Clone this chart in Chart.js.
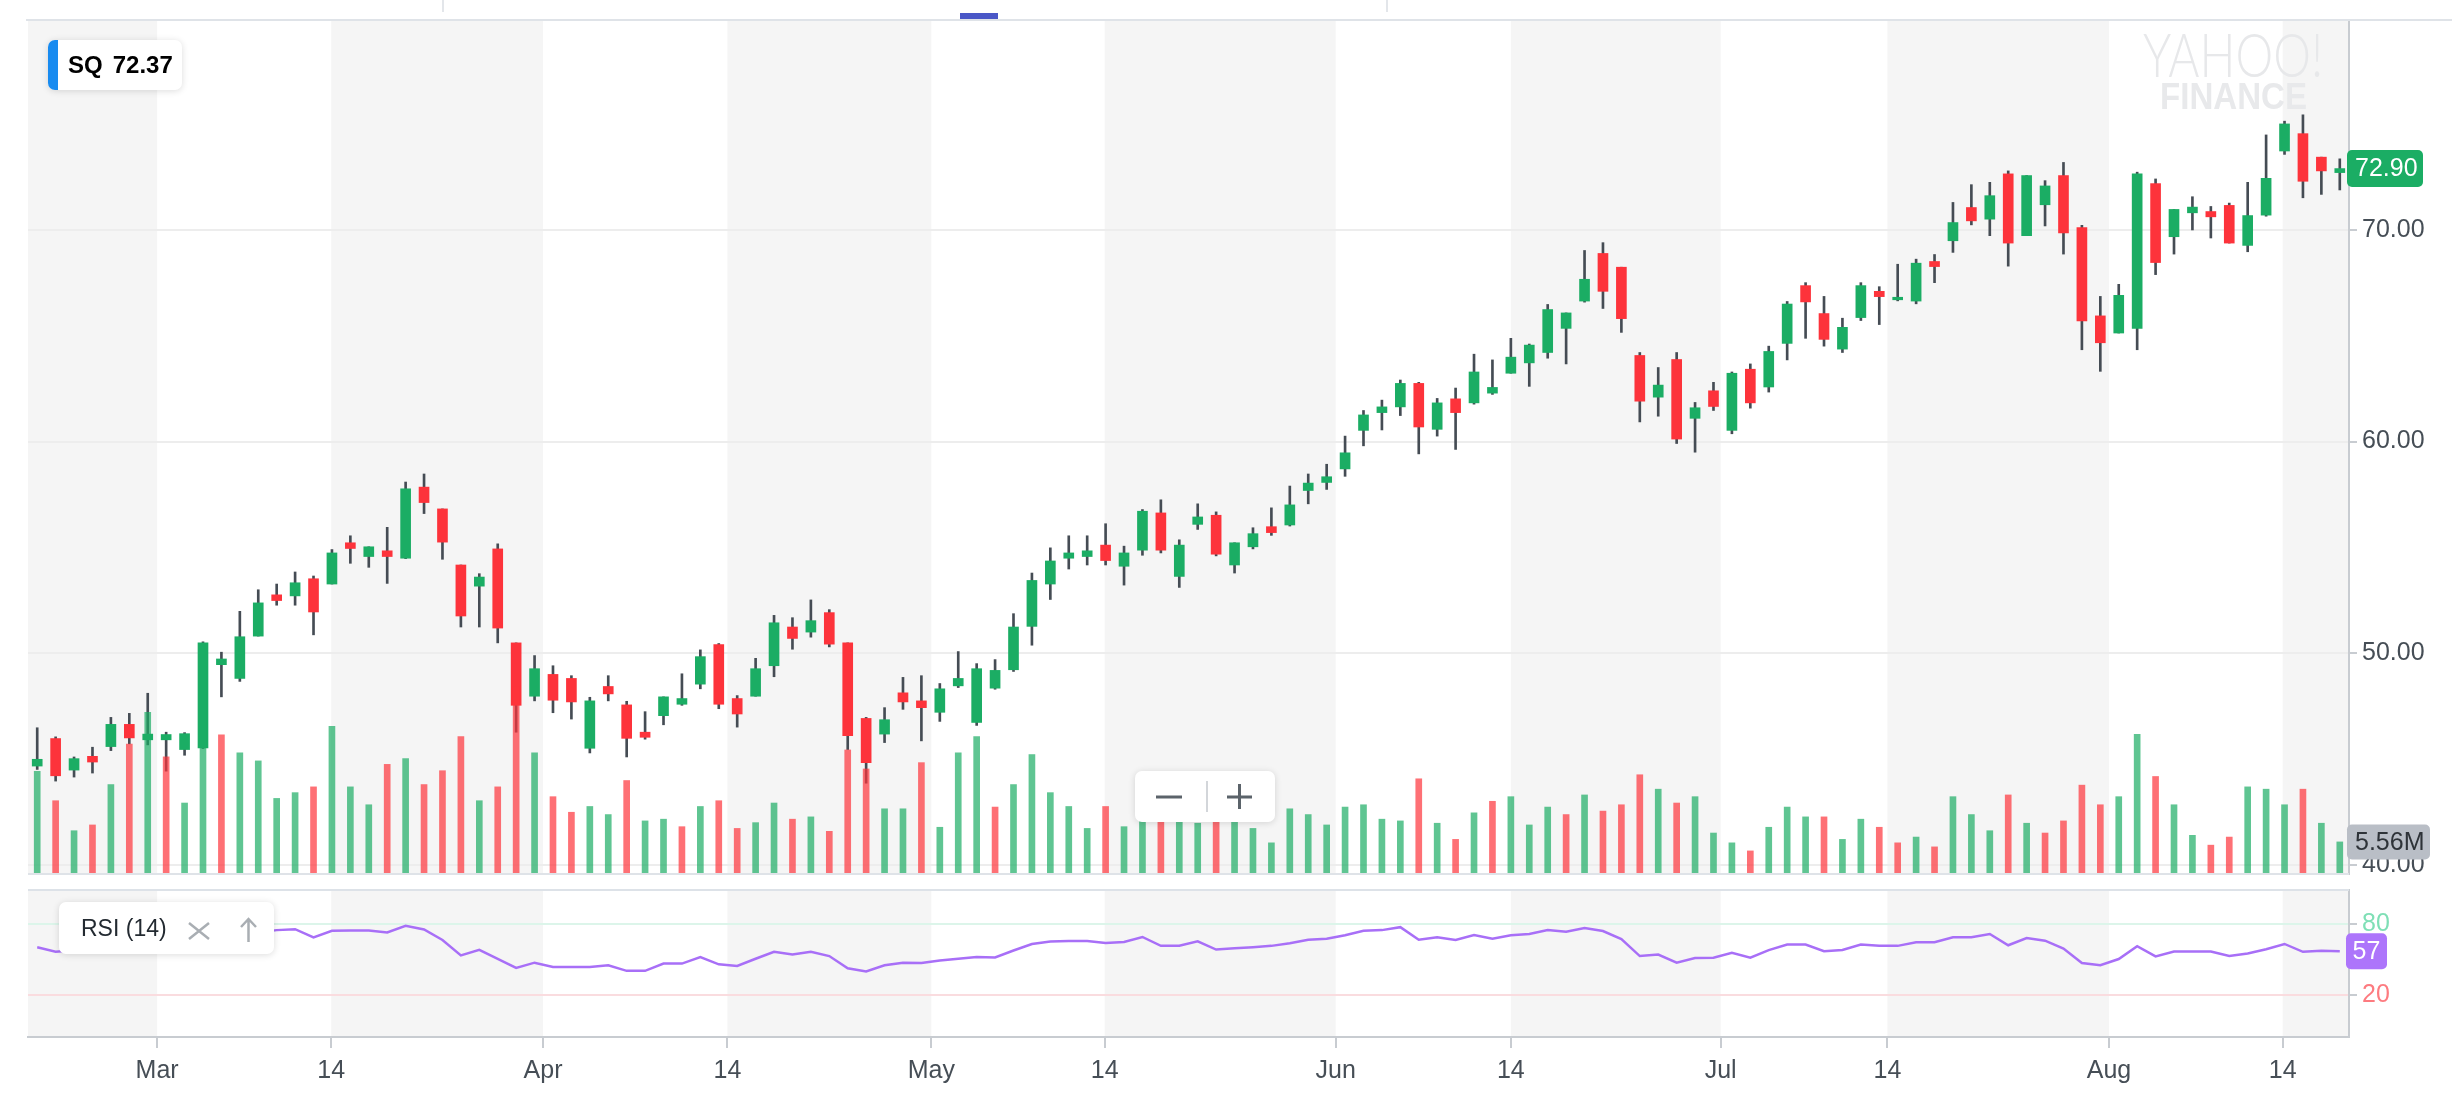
<!DOCTYPE html>
<html>
<head>
<meta charset="utf-8">
<title>SQ</title>
<script src="https://cdn.jsdelivr.net/npm/chart.js@4.4.1/dist/chart.umd.min.js"></script>
<style>
  html, body { margin: 0; padding: 0; background: #fff; }
  body { position: relative; width: 2452px; height: 1102px; overflow: hidden; font-family: "Liberation Sans", Arial, sans-serif; }
  canvas { position: absolute; left: 0; }
  #price { top: 0; }
  #rsi { top: 870px; }
  .tab-mark { position: absolute; left: 960px; top: 13px; width: 38px; height: 6px; background: #4a57c7; }
  .sep { position: absolute; top: 0; width: 2px; height: 12px; background: #e3e6ea; }
  .card { position: absolute; background: #fff; border-radius: 7px; box-shadow: 0 1px 7px rgba(0,0,0,.14); }
  #sym { left: 48px; top: 40px; width: 134px; height: 50px; overflow: hidden; }
  #sym .bar { position: absolute; left: 0; top: 0; width: 10px; height: 50px; background: #188bf0; }
  #sym .txt { position: absolute; left: 20px; top: 0; line-height: 50px; font-size: 24px; font-weight: bold; color: #000; white-space: nowrap; }
  #rsiTag { left: 59px; top: 902px; width: 215px; height: 52px; }
  #rsiTag .txt { position: absolute; left: 22px; top: 0; line-height: 52px; font-size: 23px; color: #232a31; }
  #rsiTag svg, #zoom svg { position: absolute; left: 0; top: 0; }
  #zoom { left: 1135px; top: 771px; width: 140px; height: 51px; }
</style>
</head>
<body>
<canvas id="price" width="2452" height="900"></canvas>
<canvas id="rsi" width="2452" height="232"></canvas>

<div class="sep" style="left:442px"></div>
<div class="sep" style="left:1386px"></div>
<div class="tab-mark"></div>

<div class="card" id="sym"><div class="bar"></div><div class="txt">SQ<span style="margin-left:10px">72.37</span></div></div>

<div class="card" id="rsiTag">
  <div class="txt">RSI (14)</div>
  <svg width="215" height="52">
    <path d="M130 21 L150 37 M150 21 L130 37" stroke="#a9aeb3" stroke-width="2.5" fill="none"/>
    <path d="M189.5 40 L189.5 17 M182 25 L189.5 17 L197 25" stroke="#a9aeb3" stroke-width="2.5" fill="none"/>
  </svg>
</div>

<div class="card" id="zoom">
  <svg width="140" height="51">
    <path d="M21 26 L47 26" stroke="#5b636a" stroke-width="3"/>
    <path d="M72 10 L72 41" stroke="#d3d6da" stroke-width="2"/>
    <path d="M92 26 L117 26 M104.5 13 L104.5 38" stroke="#5b636a" stroke-width="3"/>
  </svg>
</div>

<script>
// start: data (SQ daily, Feb 20 - Aug 17 2018, index = trading day)
const OPEN = [
  44.67, 45.97, 44.48, 45.13, 45.59, 46.64, 45.91, 45.91, 45.45, 45.53,
  49.46, 48.81, 50.81, 52.76, 52.71, 53.52, 53.27, 55.22, 54.57, 54.84,
  54.49, 57.85, 56.82, 54.17, 53.17, 54.93, 50.49, 47.97, 49.00, 48.81,
  45.51, 48.43, 47.56, 46.27, 47.05, 47.59, 48.54, 50.41, 47.86, 47.97,
  49.41, 51.24, 51.00, 51.92, 50.49, 46.92, 46.18, 48.13, 47.75, 47.21,
  48.46, 46.73, 48.35, 49.22, 51.27, 53.27, 54.49, 54.57, 55.11, 54.11,
  54.87, 56.63, 53.63, 56.09, 56.52, 54.17, 55.03, 55.98, 56.06, 57.69,
  58.07, 58.71, 60.53, 61.37, 61.64, 62.75, 60.58, 62.02, 61.83, 62.29,
  63.23, 63.72, 64.21, 65.35, 66.64, 68.89, 68.24, 64.07, 62.10, 63.88,
  61.10, 62.40, 60.53, 63.42, 62.58, 64.64, 67.37, 66.05, 64.37, 65.86,
  67.10, 66.70, 66.64, 68.51, 69.49, 71.06, 70.51, 72.65, 69.73, 71.19,
  72.57, 70.11, 65.94, 65.13, 65.35, 72.19, 69.68, 70.81, 70.87, 71.16,
  69.27, 70.70, 73.73, 74.55, 73.44, 72.71
];
const HIGH = [
  46.48, 46.05, 45.10, 45.56, 46.97, 47.16, 48.11, 46.27, 46.25, 50.54,
  50.05, 51.98, 53.00, 53.27, 53.84, 53.65, 54.90, 55.55, 55.03, 55.95,
  58.09, 58.47, 56.82, 54.17, 53.76, 55.17, 50.49, 49.89, 49.41, 48.94,
  47.92, 48.94, 47.73, 47.24, 47.94, 49.03, 50.16, 50.46, 48.00, 49.76,
  51.79, 51.68, 52.52, 52.06, 50.49, 46.97, 47.43, 48.86, 48.94, 48.57,
  50.08, 49.51, 49.70, 51.87, 53.79, 54.98, 55.55, 55.55, 56.12, 55.06,
  56.79, 57.25, 55.36, 57.06, 56.68, 55.22, 55.93, 56.87, 57.90, 58.47,
  58.93, 60.26, 61.47, 61.96, 62.91, 62.80, 62.04, 62.53, 64.13, 63.86,
  64.88, 64.61, 66.48, 66.08, 69.03, 69.40, 68.24, 64.21, 63.50, 64.21,
  61.85, 62.80, 63.29, 63.67, 64.51, 66.62, 67.51, 66.86, 65.83, 67.51,
  67.32, 68.38, 68.62, 68.84, 71.30, 72.14, 72.25, 72.79, 72.57, 72.33,
  73.19, 70.22, 66.86, 67.43, 72.73, 72.41, 70.97, 71.57, 71.11, 71.27,
  72.25, 74.49, 75.14, 75.44, 73.44, 73.36
];
const LOW = [
  44.51, 43.96, 44.15, 44.34, 45.40, 45.72, 45.67, 44.43, 45.18, 45.50,
  47.94, 48.67, 50.81, 52.27, 52.27, 50.87, 53.27, 54.25, 54.06, 53.30,
  54.47, 56.60, 54.44, 51.24, 51.24, 50.49, 46.27, 47.75, 47.19, 46.89,
  45.29, 47.75, 45.10, 45.94, 46.62, 47.54, 48.32, 47.38, 46.51, 47.97,
  48.89, 50.19, 50.76, 50.30, 45.45, 43.86, 45.78, 47.35, 45.86, 46.78,
  48.38, 46.59, 48.30, 49.14, 50.38, 52.54, 53.98, 54.17, 54.17, 53.22,
  54.63, 54.74, 53.11, 55.85, 54.60, 53.79, 54.93, 55.57, 56.01, 57.06,
  57.74, 58.36, 59.80, 60.55, 61.23, 59.42, 60.26, 59.63, 61.77, 62.23,
  63.23, 62.61, 63.94, 63.67, 66.59, 66.29, 65.16, 60.93, 61.20, 59.91,
  59.50, 61.47, 60.37, 61.58, 62.34, 63.86, 64.88, 64.51, 64.21, 65.72,
  65.53, 66.65, 66.51, 67.51, 68.94, 70.24, 69.73, 68.29, 69.73, 70.19,
  68.86, 64.34, 63.32, 65.13, 64.34, 67.89, 68.86, 70.00, 69.62, 69.38,
  68.97, 70.65, 73.57, 71.52, 71.68, 71.89
];
const CLOSE = [
  44.99, 44.21, 45.02, 44.86, 46.64, 46.00, 46.18, 46.16, 46.20, 50.49,
  49.73, 50.78, 52.38, 52.49, 53.33, 51.95, 54.74, 54.95, 55.03, 54.57,
  57.77, 57.12, 55.25, 51.76, 53.60, 51.19, 47.54, 49.27, 47.78, 47.70,
  47.75, 48.08, 45.98, 46.03, 47.94, 47.86, 49.84, 47.59, 47.13, 49.27,
  51.44, 50.70, 51.54, 50.43, 46.10, 44.83, 46.86, 47.70, 47.43, 48.32,
  48.81, 49.27, 49.19, 51.24, 53.44, 54.36, 54.74, 54.84, 54.38, 54.74,
  56.71, 54.87, 55.11, 56.44, 54.68, 55.22, 55.65, 55.70, 57.01, 58.04,
  58.34, 59.47, 61.26, 61.64, 62.75, 60.69, 61.83, 61.37, 63.29, 62.56,
  63.99, 64.56, 66.24, 66.08, 67.67, 67.10, 65.81, 61.91, 62.67, 60.12,
  61.60, 61.66, 63.23, 61.83, 64.26, 66.50, 66.60, 64.83, 65.40, 67.37,
  66.85, 66.82, 68.43, 68.27, 70.35, 70.43, 71.62, 69.38, 72.57, 72.08,
  69.86, 65.70, 64.67, 66.91, 72.65, 68.46, 70.97, 71.08, 70.62, 69.38,
  70.68, 72.44, 75.01, 72.30, 72.79, 72.90
];
// volume in millions
const VOLUME = [
  17.8, 12.7, 7.5, 8.5, 15.5, 22.5, 28.0, 20.3, 12.3, 36.0,
  24.1, 21.0, 19.6, 13.1, 14.1, 15.1, 25.6, 15.1, 12.0, 19.0,
  20.0, 15.5, 17.9, 23.8, 12.7, 15.1, 32.4, 21.0, 13.4, 10.7,
  11.7, 10.3, 16.2, 9.2, 9.5, 8.2, 11.7, 12.7, 7.9, 8.9,
  12.3, 9.5, 9.9, 7.4, 21.5, 18.2, 11.3, 11.3, 19.3, 8.1,
  21.0, 23.8, 11.6, 15.5, 20.7, 14.1, 11.7, 7.9, 11.7, 8.2,
  14.0, 16.0, 12.0, 8.8, 11.0, 12.0, 7.9, 5.4, 11.3, 10.3,
  8.5, 11.6, 12.0, 9.5, 9.2, 16.5, 8.8, 6.0, 10.6, 12.6,
  13.4, 8.5, 11.6, 10.3, 13.7, 10.9, 12.0, 17.2, 14.7, 12.3,
  13.4, 7.1, 5.4, 4.0, 8.1, 11.6, 9.9, 9.9, 6.0, 9.5,
  8.1, 5.4, 6.4, 4.7, 13.4, 10.3, 7.5, 13.7, 8.8, 7.1,
  9.2, 15.4, 12.0, 13.4, 24.2, 16.9, 12.0, 6.7, 5.0, 6.4,
  15.1, 14.7, 12.0, 14.7, 8.8, 5.56
];
const RSI = [
  60.5, 56.7, 58.0, 57.0, 61.0, 59.0, 60.0, 60.0, 61.0, 70.0,
  68.0, 71.0, 73.0, 75.0, 75.8, 68.9, 74.4, 74.7, 74.7, 73.1,
  78.6, 75.6, 66.7, 53.6, 58.3, 50.8, 43.1, 47.5, 43.9, 43.9,
  43.9, 45.3, 40.6, 40.6, 46.7, 46.7, 52.2, 46.1, 44.7, 50.8,
  56.7, 54.4, 56.7, 53.1, 42.8, 40.0, 45.3, 47.5, 47.2, 49.4,
  50.8, 52.2, 51.9, 57.8, 63.3, 65.3, 65.8, 65.8, 64.2, 65.0,
  69.2, 61.7, 61.9, 65.6, 58.6, 59.7, 60.6, 61.7, 63.9, 66.9,
  67.8, 70.6, 74.4, 75.0, 77.5, 66.9, 68.9, 66.7, 70.8, 67.8,
  70.6, 71.7, 75.0, 73.6, 76.7, 74.2, 67.5, 53.1, 54.4, 47.5,
  51.4, 51.7, 55.8, 51.7, 58.1, 62.8, 62.8, 57.2, 58.3, 62.8,
  61.9, 61.7, 64.7, 64.7, 68.9, 68.9, 71.7, 62.2, 68.3, 66.1,
  59.4, 47.2, 45.3, 50.6, 61.4, 52.8, 56.9, 56.9, 56.9, 53.1,
  55.3, 58.9, 63.3, 56.7, 57.5, 57.2
];
const TICK_LABELS = ['Mar', '14', 'Apr', '14', 'May', '14', 'Jun', '14', 'Jul', '14', 'Aug', '14'];
const TICK_POS = [6.51, 15.96, 27.46, 37.47, 48.54, 57.95, 70.49, 80.0, 91.39, 100.44, 112.47, 121.9];
const PRICE_TICKS = [40, 50, 60, 70];
const RSI_LEVELS = [20, 80];
// end: data

const UP = '#1bad64';
const DOWN = '#fd333b';
const UP_VOL = 'rgba(27,173,100,0.7)';
const DOWN_VOL = 'rgba(253,51,59,0.7)';
const LABEL = '#464e56';
const AXIS = '#c8ccd1';

Chart.defaults.font.family = '"Liberation Sans", Arial, sans-serif';
Chart.defaults.color = LABEL;

const bodyColors = CLOSE.map((c, i) => c >= OPEN[i] ? UP : DOWN);
const volColors = CLOSE.map((c, i) => (i === 0 || c >= CLOSE[i - 1]) ? UP_VOL : DOWN_VOL);

function tag(ctx, x, y, w, h, bg, fg, text, center) {
    const r = 5, top = y - h / 2;
    ctx.save();
    ctx.beginPath();
    ctx.moveTo(x + r, top);
    ctx.arcTo(x + w, top, x + w, top + h, r);
    ctx.arcTo(x + w, top + h, x, top + h, r);
    ctx.arcTo(x, top + h, x, top, r);
    ctx.arcTo(x, top, x + w, top, r);
    ctx.closePath();
    ctx.fillStyle = bg;
    ctx.fill();
    ctx.fillStyle = fg;
    ctx.font = '25px "Liberation Sans"';
    ctx.textBaseline = 'middle';
    ctx.textAlign = center ? 'center' : 'left';
    ctx.fillText(text, center ? x + w / 2 : x + 8, y + 1);
    ctx.restore();
}

// watermark text squeezed to a fixed width
function mark(ctx, text, font, color, x, y, width) {
    ctx.save();
    ctx.font = font;
    ctx.fillStyle = color;
    ctx.textBaseline = 'alphabetic';
    const k = width / ctx.measureText(text).width;
    ctx.translate(x, y);
    ctx.scale(k, 1);
    ctx.fillText(text, 0, 0);
    ctx.restore();
}

// alternating half-month bands
const bands = {
    id: 'bands',
    beforeDraw(chart) {
        const { ctx, chartArea: a, scales: { x } } = chart;
        const edges = [x.min, ...TICK_POS, x.max];
        ctx.save();
        ctx.fillStyle = '#f5f5f5';
        for (let i = 0; i < edges.length - 1; i += 2) {
            const x0 = x.getPixelForValue(edges[i]);
            const x1 = x.getPixelForValue(edges[i + 1]);
            ctx.fillRect(x0, a.top, x1 - x0, a.bottom - a.top);
        }
        ctx.restore();
    }
};

const priceDecor = {
    id: 'priceDecor',
    beforeDatasetsDraw(chart) {
        const ctx = chart.ctx;
        mark(ctx, 'YAHOO!', '300 62px Lato, "Liberation Sans"', '#e7e8ea', 2143, 77, 180);
        mark(ctx, 'FINANCE', 'bold 36px "Liberation Sans"', '#e8e9eb', 2160, 109, 147);
    },
    afterDraw(chart) {
        const { ctx, chartArea: a, scales } = chart;
        ctx.save();
        ctx.fillStyle = '#dfe3e8';
        ctx.fillRect(26, a.top - 1, chart.width - 26, 2);
        ctx.fillRect(a.left, a.bottom - 1, a.right - a.left, 2);
        ctx.restore();
        const last = CLOSE.length - 1;
        tag(ctx, a.right - 2, scales.y.getPixelForValue(CLOSE[last]), 76, 37, UP, '#fff', CLOSE[last].toFixed(2));
        tag(ctx, a.right - 2, scales.yv.getPixelForValue(VOLUME[last]), 83, 35, '#b9bec6', '#2e3338', VOLUME[last].toFixed(2) + 'M');
    }
};

const rsiDecor = {
    id: 'rsiDecor',
    afterDraw(chart) {
        const { ctx, chartArea: a, scales } = chart;
        ctx.save();
        ctx.fillStyle = '#dde2e8';
        ctx.fillRect(a.left, a.top - 1, a.right - a.left, 2);
        ctx.restore();
        const last = RSI.length - 1;
        tag(ctx, a.right - 3, scales.y.getPixelForValue(RSI[last]), 41, 36, '#ad75fb', '#fff', String(Math.round(RSI[last])), true);
    }
};

const xRange = { type: 'linear', min: -0.5, max: 125.5, offset: false };

// start: price + volume panel
new Chart(document.getElementById('price'), {
    type: 'bar',
    data: {
        datasets: [
            {
                label: 'Volume',
                data: VOLUME.map((v, i) => ({ x: i, y: v })),
                yAxisID: 'yv',
                backgroundColor: volColors,
                barThickness: 6,
                maxBarThickness: 6,
                grouped: false,
                order: 0
            },
            {
                label: 'Body',
                data: OPEN.map((o, i) => ({ x: i, y: [o, CLOSE[i]] })),
                yAxisID: 'y',
                backgroundColor: bodyColors,
                barThickness: 10,
                maxBarThickness: 10,
                grouped: false,
                order: 1
            },
            {
                label: 'Wick',
                data: LOW.map((l, i) => ({ x: i, y: [l, HIGH[i]] })),
                yAxisID: 'y',
                backgroundColor: '#454c54',
                barThickness: 2,
                maxBarThickness: 2,
                grouped: false,
                order: 2
            }
        ]
    },
    options: {
        responsive: false,
        animation: false,
        devicePixelRatio: 1,
        layout: { padding: { left: 28, top: 18, bottom: 26, right: 0 } },
        plugins: { legend: { display: false }, tooltip: { enabled: false } },
        scales: {
            x: Object.assign({ display: false }, xRange),
            y: {
                position: 'right',
                min: 39.57,
                max: 79.92,
                beginAtZero: false,
                afterBuildTicks: s => { s.ticks = PRICE_TICKS.map(v => ({ value: v })); },
                afterFit: s => { s.width = 103; },
                ticks: { callback: v => v.toFixed(2), color: LABEL, font: { size: 25 }, padding: 5 },
                grid: { color: '#ededed', lineWidth: 2, tickColor: AXIS, tickLength: 8 },
                border: { color: AXIS, width: 2 }
            },
            yv: { display: false, min: 0, max: 148 }
        }
    },
    plugins: [bands, priceDecor]
});

// start: RSI panel
new Chart(document.getElementById('rsi'), {
    type: 'line',
    data: {
        datasets: [{
            label: 'RSI (14)',
            data: RSI.map((v, i) => ({ x: i, y: v })),
            borderColor: '#a86ff7',
            borderWidth: 2.5,
            pointRadius: 0,
            tension: 0
        }]
    },
    options: {
        responsive: false,
        animation: false,
        devicePixelRatio: 1,
        layout: { padding: { left: 28, top: 18, bottom: 0, right: 0 } },
        plugins: { legend: { display: false }, tooltip: { enabled: false } },
        scales: {
            x: Object.assign({
                afterBuildTicks: s => { s.ticks = TICK_POS.map(v => ({ value: v })); },
                afterFit: s => { s.height = 65; },
                ticks: {
                    callback: (v, i) => TICK_LABELS[i],
                    autoSkip: false,
                    maxRotation: 0,
                    color: LABEL,
                    font: { size: 25 },
                    padding: 8
                },
                grid: { drawOnChartArea: false, tickLength: 11, tickColor: AXIS, lineWidth: 2 },
                border: { color: AXIS, width: 2 }
            }, xRange),
            y: {
                position: 'right',
                min: -15.3,
                max: 108.9,
                afterBuildTicks: s => { s.ticks = RSI_LEVELS.map(v => ({ value: v })); },
                afterFit: s => { s.width = 103; },
                ticks: {
                    color: c => c.tick && c.tick.value === 80 ? '#7fdfb6' : '#fd7b80',
                    font: { size: 25 },
                    padding: 5
                },
                grid: {
                    color: c => c.tick && c.tick.value === 80 ? '#dcf5ea' : '#fadcdf',
                    lineWidth: 2,
                    tickColor: AXIS,
                    tickLength: 8
                },
                border: { color: AXIS, width: 2 }
            }
        }
    },
    plugins: [bands, rsiDecor]
});
</script>
</body>
</html>
